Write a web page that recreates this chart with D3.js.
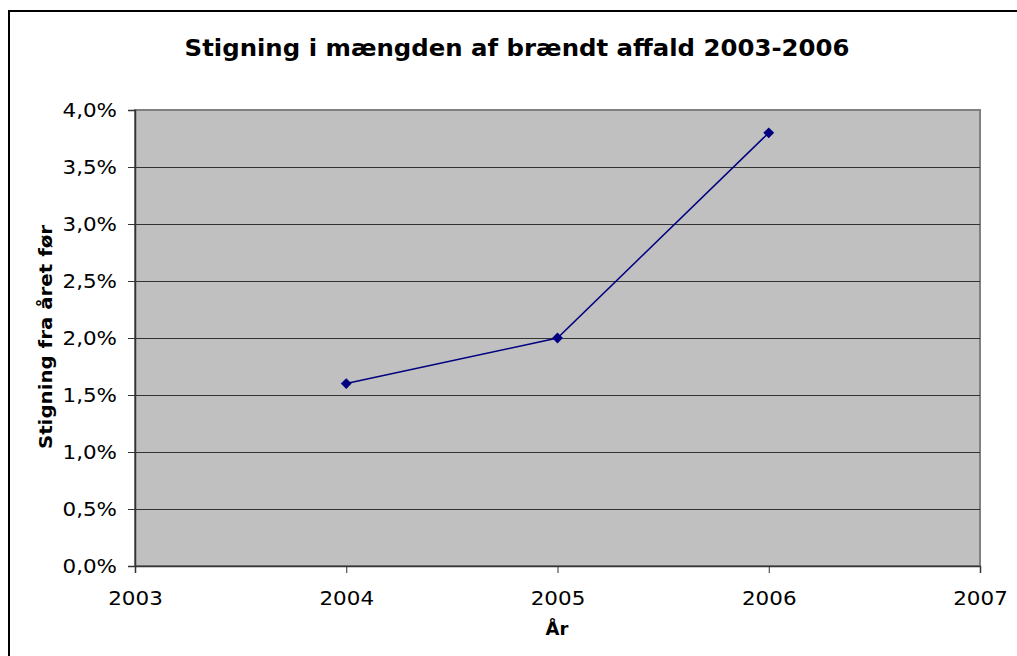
<!DOCTYPE html>
<html>
<head>
<meta charset="utf-8">
<script src="https://cdn.jsdelivr.net/npm/d3@7"></script>
<style>
  html, body { margin: 0; padding: 0; background: #ffffff; }
  svg { display: block; }
  text { font-family: "DejaVu Sans", Verdana, sans-serif; fill: #000; }
</style>
</head>
<body>
<svg id="chart" width="1017" height="656"></svg>
<script>
// Annual increase in incinerated waste, relative to the previous year
const years = [2004, 2005, 2006];
const increase = [1.6, 2.0, 3.8];            // percent
const xTicks = [2003, 2004, 2005, 2006, 2007];
const yTicks = [0, 0.5, 1, 1.5, 2, 2.5, 3, 3.5, 4];
const titleText = "Stigning i mængden af brændt affald 2003-2006";
const xTitle = "År";
const yTitle = "Stigning fra året før";

const W = 1017, H = 656;
const plot = { left: 135, top: 110, right: 980, bottom: 566 };

const svg = d3.select("#chart");

// widen glyphs a little, Verdana-style
function widen(sel, factor) {
  sel.each(function () {
    const n = this.getComputedTextLength();
    d3.select(this)
      .attr("textLength", n * factor)
      .attr("lengthAdjust", "spacingAndGlyphs");
  });
}

// outer chart frame (left and top edges visible)
svg.append("rect")
  .attr("x", 9).attr("y", 11)
  .attr("width", W + 20).attr("height", H + 20)
  .attr("fill", "#fff").attr("stroke", "#000").attr("stroke-width", 2);

const x = d3.scaleLinear().domain([2003, 2007]).range([plot.left, plot.right]);
const y = d3.scaleLinear().domain([0, 4]).range([plot.bottom, plot.top]);

// plot background
svg.append("rect")
  .attr("x", plot.left).attr("y", plot.top)
  .attr("width", plot.right - plot.left).attr("height", plot.bottom - plot.top)
  .attr("fill", "#c0c0c0").attr("stroke", "#808080").attr("stroke-width", 2);

// horizontal gridlines
svg.append("g")
  .selectAll("line")
  .data(yTicks.filter(d => d > 0 && d < 4))
  .join("line")
  .attr("x1", plot.left).attr("x2", plot.right)
  .attr("y1", d => Math.round(y(d)) + 0.5).attr("y2", d => Math.round(y(d)) + 0.5)
  .attr("stroke", "#333").attr("stroke-width", 1);

// y axis
const fmtY = d => d3.format(".1f")(d).replace(".", ",") + "%";
const yAxis = svg.append("g")
  .attr("transform", `translate(${plot.left},0)`)
  .call(d3.axisLeft(y).tickValues(yTicks).tickFormat(fmtY).tickSize(7).tickPadding(11));
yAxis.select(".domain").attr("stroke", "#333").attr("stroke-width", 1.5);
yAxis.selectAll(".tick line").attr("stroke", "#333");
yAxis.selectAll(".tick text")
  .attr("font-size", 19.5).attr("fill", "#000")
  .style("font-family", '"DejaVu Sans", Verdana, sans-serif')
  .call(widen, 1.1);

// x axis
const xAxis = svg.append("g")
  .attr("transform", `translate(0,${plot.bottom})`)
  .call(d3.axisBottom(x).tickValues(xTicks).tickFormat(d3.format("d")).tickSize(7).tickPadding(18));
xAxis.select(".domain").attr("stroke", "#333").attr("stroke-width", 1.5);
xAxis.selectAll(".tick line").attr("stroke", "#333");
xAxis.selectAll(".tick text")
  .attr("font-size", 19.5).attr("fill", "#000")
  .style("font-family", '"DejaVu Sans", Verdana, sans-serif')
  .call(widen, 1.1);

// data line
const pts = years.map((yr, i) => [yr, increase[i]]);
svg.append("path")
  .datum(pts)
  .attr("fill", "none")
  .attr("stroke", "#000080")
  .attr("stroke-width", 1.5)
  .attr("d", d3.line().x(d => x(d[0])).y(d => y(d[1])));

// diamond markers
svg.append("g")
  .selectAll("path")
  .data(pts)
  .join("path")
  .attr("transform", d => `translate(${x(d[0])},${y(d[1])})`)
  .attr("d", d3.symbol().type(d3.symbolDiamond2).size(75))
  .attr("fill", "#000080");

// titles
svg.append("text")
  .attr("x", 517).attr("y", 56)
  .attr("text-anchor", "middle")
  .attr("font-size", 23).attr("font-weight", "bold")
  .text(titleText)
  .call(widen, 1.06);

svg.append("text")
  .attr("x", 557).attr("y", 635)
  .attr("text-anchor", "middle")
  .attr("font-size", 18).attr("font-weight", "bold")
  .text(xTitle);

svg.append("text")
  .attr("transform", "translate(52,337) rotate(-90)")
  .attr("text-anchor", "middle")
  .attr("font-size", 18).attr("font-weight", "bold")
  .text(yTitle)
  .call(widen, 1.1);
</script>
</body>
</html>
